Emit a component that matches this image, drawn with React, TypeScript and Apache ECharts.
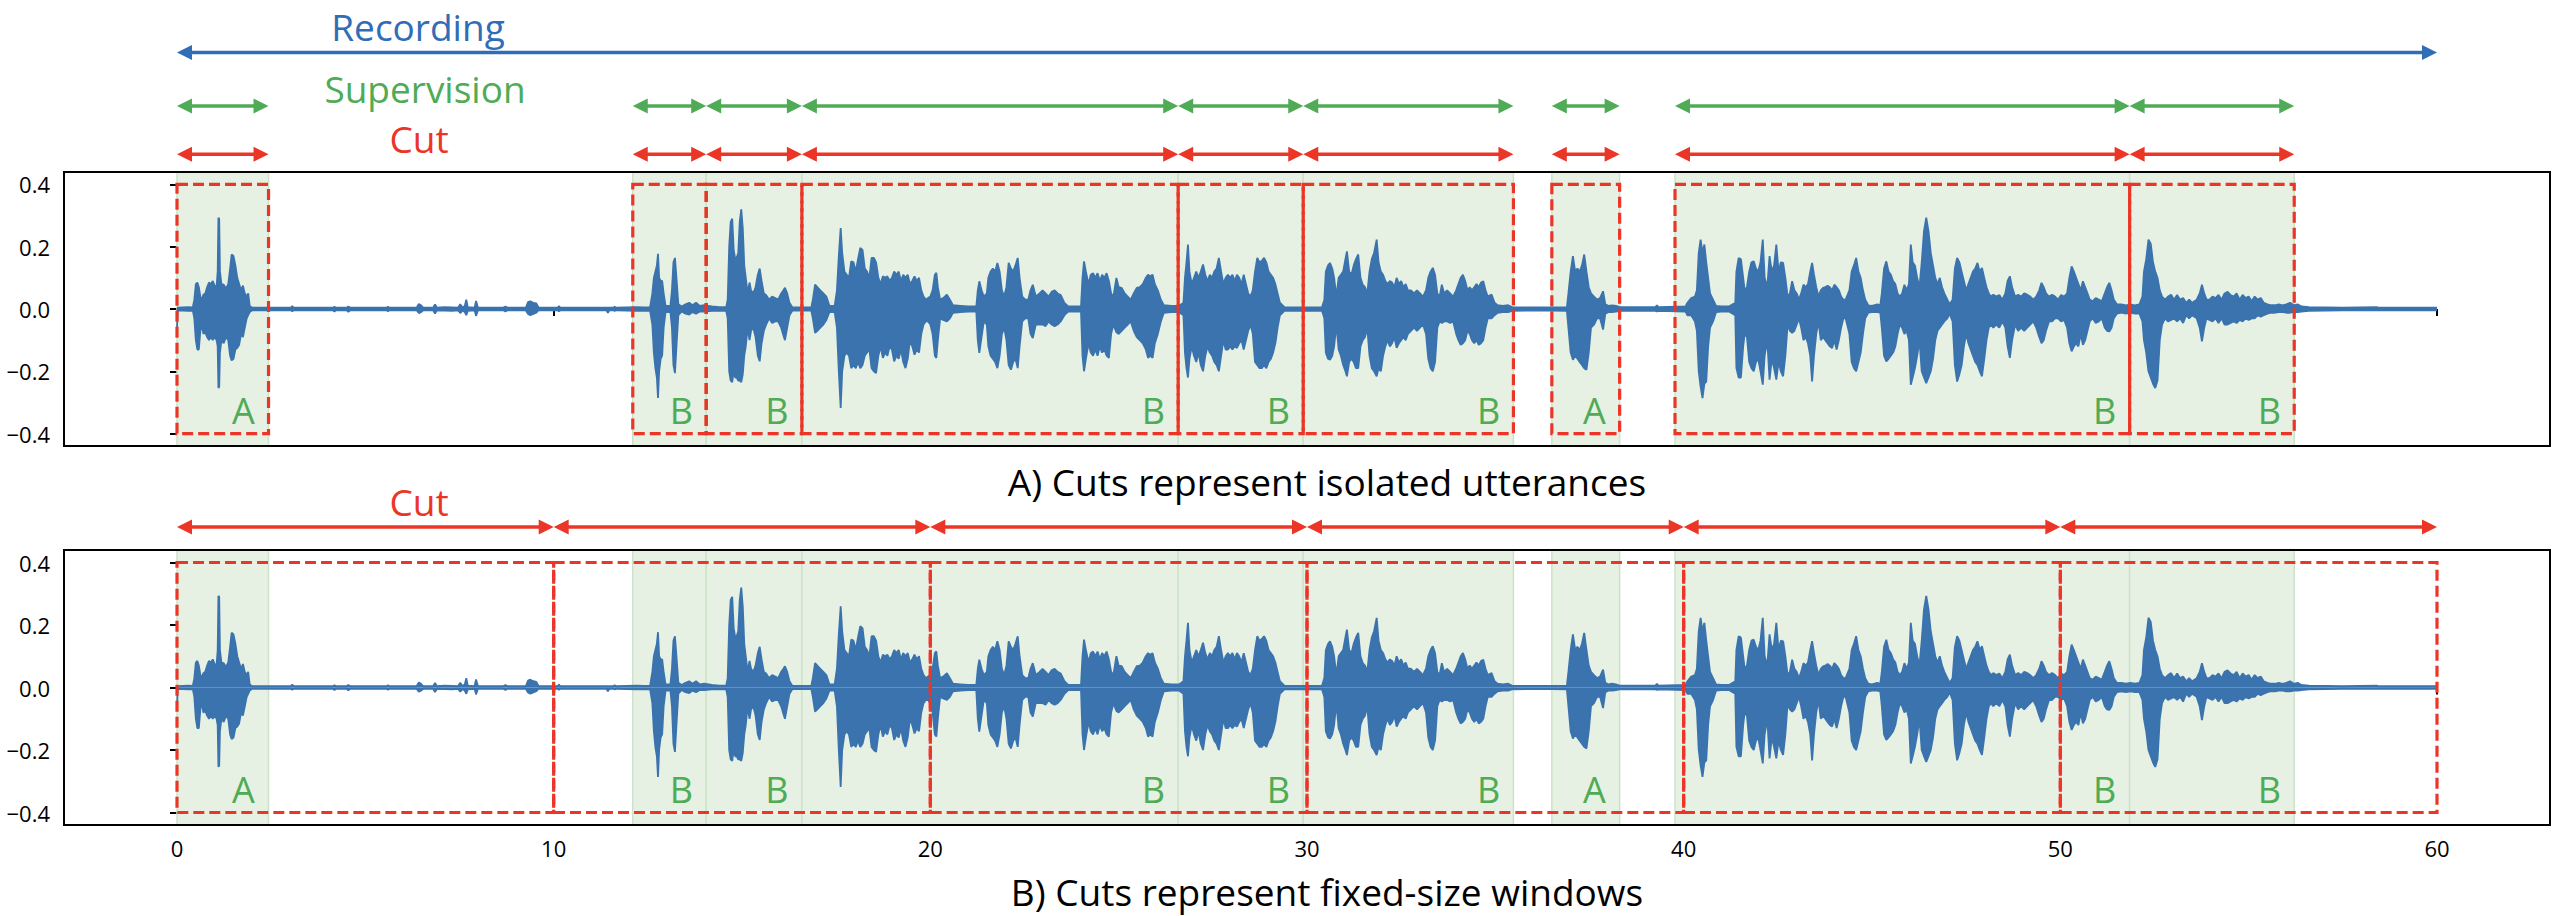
import React, { useEffect, useRef } from "react";
import * as echarts from "echarts";

// ---------- axes ----------
const X_MIN = -3;
const X_MAX = 63;
const Y_MIN = -0.44;
const Y_MAX = 0.44;
const xTicks = [0, 10, 20, 30, 40, 50, 60];
const yTicks = [-0.4, -0.2, 0, 0.2, 0.4];

// ---------- segments (seconds) ----------
const recording = [0, 60];
const supStart = [0, 12.1, 14.05, 16.59, 26.58, 29.9, 36.5, 39.77, 51.84];
const supEnd = [2.43, 14.05, 16.59, 26.58, 29.9, 35.48, 38.3, 51.84, 56.21];
const supLabel = ["A", "B", "B", "B", "B", "B", "A", "B", "B"];
const windowStart = [0, 10, 20, 30, 40, 50];
const windowEnd = [10, 20, 30, 40, 50, 60];

// ---------- waveform envelope: [time, upper peak, lower peak] ----------
const envA1 = [
  [0.0, 0.004, -0.06], [0.02, 0.004, -0.004], [0.3, 0.006, -0.006], [0.42, 0.005, -0.005],
  [0.46, 0.03, -0.03], [0.5, 0.08, -0.1], [0.54, 0.085, -0.13], [0.58, 0.07, -0.13],
  [0.62, 0.04, -0.07], [0.66, 0.03, -0.05], [0.7, 0.046, -0.08], [0.75, 0.05, -0.075],
  [0.8, 0.07, -0.09], [0.85, 0.085, -0.1], [0.9, 0.08, -0.09], [0.95, 0.09, -0.1],
  [1.0, 0.075, -0.09], [1.05, 0.07, -0.1], [1.08, 0.12, -0.12], [1.1, 0.293, -0.254],
  [1.12, 0.29, -0.25], [1.14, 0.12, -0.14], [1.18, 0.08, -0.1], [1.24, 0.078, -0.11],
  [1.3, 0.065, -0.09], [1.36, 0.08, -0.1], [1.41, 0.13, -0.15], [1.45, 0.175, -0.165],
  [1.5, 0.17, -0.16], [1.55, 0.14, -0.13], [1.6, 0.1, -0.125], [1.65, 0.08, -0.115],
  [1.7, 0.06, -0.08], [1.75, 0.075, -0.09], [1.8, 0.05, -0.06], [1.85, 0.04, -0.03],
  [1.89, 0.05, -0.02], [1.93, 0.01, -0.01], [2.0, 0.004, -0.004],
];
const envGap1 = [
  [2.4, 0.004, -0.004], [3.02, 0.004, -0.004], [3.06, 0.009, -0.007], [3.1, 0.004, -0.004],
  [4.14, 0.004, -0.004], [4.18, 0.007, -0.008], [4.22, 0.004, -0.004],
  [4.5, 0.004, -0.004], [4.55, 0.008, -0.009], [4.6, 0.004, -0.004],
  [5.56, 0.004, -0.004], [5.6, 0.007, -0.007], [5.64, 0.004, -0.004],
  [6.36, 0.004, -0.004], [6.42, 0.016, -0.013], [6.48, 0.012, -0.01], [6.54, 0.004, -0.004],
  [6.8, 0.004, -0.004], [6.85, 0.015, -0.015], [6.9, 0.004, -0.004],
  [7.1, 0.006, -0.005], [7.3, 0.005, -0.006],
  [7.46, 0.004, -0.004], [7.52, 0.015, -0.013], [7.58, 0.005, -0.005],
  [7.64, 0.01, -0.01], [7.68, 0.03, -0.02], [7.72, 0.006, -0.006],
  [7.9, 0.004, -0.004], [7.94, 0.026, -0.022], [7.99, 0.004, -0.004],
  [8.66, 0.004, -0.004], [8.72, 0.008, -0.008], [8.78, 0.004, -0.004],
  [9.26, 0.004, -0.004], [9.32, 0.022, -0.016], [9.38, 0.025, -0.02], [9.46, 0.02, -0.016],
  [9.54, 0.018, -0.012], [9.6, 0.004, -0.004],
  [10.1, 0.004, -0.004], [10.14, 0.009, -0.007], [10.18, 0.004, -0.004],
  [11.4, 0.004, -0.004], [11.44, 0.004, -0.012], [11.48, 0.004, -0.004],
  [11.58, 0.004, -0.004], [11.62, 0.007, -0.006], [11.66, 0.004, -0.004],
  [12.2, 0.006, -0.006], [12.4, 0.005, -0.005], [12.56, 0.006, -0.006],
];
const envB1 = [
  [12.62, 0.05, -0.05], [12.66, 0.1, -0.14], [12.7, 0.12, -0.19], [12.74, 0.14, -0.22],
  [12.77, 0.177, -0.286], [12.8, 0.1, -0.2], [12.84, 0.09, -0.16], [12.88, 0.09, -0.15],
  [12.92, 0.05, -0.06], [12.97, 0.01, -0.01], [13.1, 0.01, -0.01], [13.14, 0.06, -0.06],
  [13.18, 0.15, -0.18], [13.22, 0.164, -0.206], [13.26, 0.1, -0.12], [13.31, 0.015, -0.02],
  [13.4, 0.008, -0.008], [13.5, 0.015, -0.015], [13.6, 0.02, -0.018], [13.68, 0.012, -0.01],
  [13.78, 0.02, -0.015], [13.88, 0.01, -0.008], [14.0, 0.012, -0.008], [14.2, 0.008, -0.006],
  [14.4, 0.006, -0.006], [14.58, 0.006, -0.006],
];
const envB2 = [
  [14.62, 0.03, -0.03], [14.66, 0.2, -0.2], [14.7, 0.28, -0.23], [14.74, 0.29, -0.235],
  [14.78, 0.19, -0.2], [14.82, 0.16, -0.22], [14.86, 0.165, -0.22], [14.9, 0.18, -0.23],
  [14.94, 0.28, -0.23], [14.98, 0.32, -0.235], [15.02, 0.26, -0.21], [15.06, 0.14, -0.15],
  [15.1, 0.1, -0.12], [15.15, 0.05, -0.06], [15.2, 0.085, -0.1], [15.24, 0.06, -0.07],
  [15.3, 0.05, -0.06], [15.36, 0.07, -0.09], [15.42, 0.11, -0.15], [15.47, 0.13, -0.168],
  [15.52, 0.09, -0.11], [15.58, 0.05, -0.07], [15.64, 0.045, -0.05], [15.72, 0.03, -0.03],
  [15.8, 0.04, -0.045], [15.88, 0.035, -0.04], [15.96, 0.03, -0.04], [16.04, 0.05, -0.06],
  [16.1, 0.06, -0.085], [16.14, 0.068, -0.1], [16.2, 0.05, -0.06], [16.26, 0.02, -0.02],
  [16.34, 0.005, -0.005], [16.84, 0.005, -0.005],
];
const envB3 = [
  [16.88, 0.03, -0.03], [16.94, 0.078, -0.077], [17.0, 0.07, -0.07], [17.08, 0.06, -0.06],
  [17.16, 0.05, -0.05], [17.24, 0.04, -0.035], [17.32, 0.01, -0.01], [17.46, 0.01, -0.01],
  [17.52, 0.06, -0.06], [17.57, 0.17, -0.2], [17.62, 0.26, -0.318], [17.66, 0.18, -0.2],
  [17.72, 0.12, -0.15], [17.78, 0.11, -0.14], [17.84, 0.1, -0.15], [17.9, 0.153, -0.19],
  [17.96, 0.15, -0.18], [18.02, 0.12, -0.19], [18.08, 0.16, -0.17], [18.14, 0.196, -0.19],
  [18.2, 0.19, -0.18], [18.26, 0.13, -0.15], [18.32, 0.12, -0.14], [18.38, 0.1, -0.13],
  [18.44, 0.164, -0.19], [18.5, 0.164, -0.2], [18.56, 0.15, -0.206], [18.62, 0.1, -0.15],
  [18.68, 0.08, -0.12], [18.74, 0.105, -0.157], [18.8, 0.1, -0.14], [18.86, 0.105, -0.15],
  [18.92, 0.09, -0.12], [18.98, 0.1, -0.13], [19.04, 0.12, -0.168], [19.1, 0.11, -0.15],
  [19.16, 0.12, -0.16], [19.22, 0.09, -0.13], [19.28, 0.11, -0.17], [19.34, 0.1, -0.19],
  [19.4, 0.11, -0.16], [19.46, 0.08, -0.1], [19.52, 0.09, -0.12], [19.58, 0.105, -0.147],
  [19.64, 0.09, -0.13], [19.7, 0.1, -0.14], [19.76, 0.06, -0.08], [19.82, 0.04, -0.05],
  [19.88, 0.03, -0.04], [19.94, 0.035, -0.04], [20.0, 0.04, -0.05], [20.06, 0.06, -0.08],
  [20.12, 0.11, -0.15], [20.16, 0.116, -0.157], [20.2, 0.07, -0.1], [20.26, 0.03, -0.03],
  [20.34, 0.035, -0.035], [20.44, 0.046, -0.04], [20.52, 0.03, -0.03], [20.6, 0.012, -0.012],
  [20.8, 0.01, -0.01], [21.0, 0.008, -0.008], [21.22, 0.008, -0.008], [21.26, 0.06, -0.1],
  [21.3, 0.089, -0.141], [21.36, 0.06, -0.09], [21.42, 0.04, -0.04], [21.5, 0.05, -0.05],
  [21.54, 0.1, -0.12], [21.6, 0.12, -0.15], [21.66, 0.13, -0.16], [21.72, 0.12, -0.17],
  [21.78, 0.148, -0.19], [21.84, 0.12, -0.15], [21.9, 0.06, -0.08], [21.96, 0.04, -0.06],
  [22.02, 0.07, -0.1], [22.08, 0.148, -0.18], [22.14, 0.13, -0.195], [22.2, 0.12, -0.17],
  [22.26, 0.14, -0.16], [22.32, 0.164, -0.19], [22.37, 0.1, -0.12], [22.44, 0.04, -0.04],
  [22.52, 0.03, -0.03], [22.6, 0.03, -0.03], [22.66, 0.06, -0.08], [22.72, 0.078, -0.093],
  [22.8, 0.04, -0.05], [22.9, 0.05, -0.05], [22.98, 0.06, -0.05], [23.06, 0.05, -0.055],
  [23.14, 0.04, -0.04], [23.22, 0.055, -0.05], [23.3, 0.06, -0.055], [23.38, 0.05, -0.05],
  [23.46, 0.045, -0.04], [23.56, 0.02, -0.02], [23.66, 0.008, -0.008], [24.0, 0.008, -0.008],
  [24.04, 0.1, -0.15], [24.08, 0.153, -0.2], [24.13, 0.12, -0.16], [24.2, 0.08, -0.11],
  [24.26, 0.11, -0.14], [24.32, 0.115, -0.15], [24.38, 0.1, -0.13], [24.44, 0.115, -0.15],
  [24.5, 0.09, -0.12], [24.56, 0.11, -0.14], [24.62, 0.1, -0.13], [24.68, 0.115, -0.15],
  [24.74, 0.09, -0.157], [24.8, 0.05, -0.08], [24.86, 0.04, -0.05], [24.94, 0.1, -0.075],
  [25.0, 0.07, -0.08], [25.08, 0.068, -0.07], [25.16, 0.05, -0.06], [25.24, 0.04, -0.05],
  [25.32, 0.03, -0.04], [25.4, 0.05, -0.07], [25.48, 0.068, -0.09], [25.56, 0.07, -0.1],
  [25.64, 0.08, -0.11], [25.72, 0.1, -0.13], [25.78, 0.11, -0.157], [25.84, 0.105, -0.15],
  [25.9, 0.11, -0.157], [25.96, 0.08, -0.11], [26.04, 0.06, -0.08], [26.12, 0.03, -0.04],
  [26.2, 0.012, -0.012], [26.4, 0.01, -0.01], [26.6, 0.01, -0.01],
];
const envB4 = [
  [26.72, 0.02, -0.02], [26.76, 0.1, -0.14], [26.8, 0.15, -0.19], [26.84, 0.207, -0.22],
  [26.88, 0.12, -0.16], [26.94, 0.08, -0.12], [27.0, 0.1, -0.15], [27.06, 0.12, -0.17],
  [27.12, 0.1, -0.14], [27.18, 0.12, -0.18], [27.24, 0.143, -0.2], [27.3, 0.11, -0.15],
  [27.36, 0.09, -0.12], [27.42, 0.11, -0.14], [27.48, 0.1, -0.15], [27.54, 0.12, -0.17],
  [27.6, 0.13, -0.18], [27.66, 0.164, -0.2], [27.72, 0.12, -0.15], [27.78, 0.08, -0.1],
  [27.84, 0.1, -0.13], [27.9, 0.11, -0.13], [27.96, 0.1, -0.12], [28.02, 0.11, -0.13],
  [28.08, 0.09, -0.12], [28.14, 0.11, -0.125], [28.2, 0.1, -0.11], [28.26, 0.08, -0.1],
  [28.32, 0.11, -0.13], [28.38, 0.08, -0.1], [28.44, 0.05, -0.07], [28.5, 0.04, -0.05],
  [28.56, 0.06, -0.08], [28.62, 0.12, -0.17], [28.68, 0.164, -0.18], [28.74, 0.15, -0.19],
  [28.8, 0.155, -0.19], [28.86, 0.164, -0.18], [28.92, 0.15, -0.19], [28.98, 0.12, -0.17],
  [29.04, 0.11, -0.16], [29.1, 0.1, -0.14], [29.16, 0.08, -0.11], [29.22, 0.05, -0.06],
  [29.28, 0.02, -0.02], [29.4, 0.006, -0.006], [30.0, 0.005, -0.005], [30.4, 0.006, -0.006],
];
const envB5 = [
  [30.46, 0.03, -0.03], [30.5, 0.12, -0.14], [30.56, 0.14, -0.16], [30.61, 0.148, -0.163],
  [30.67, 0.13, -0.15], [30.72, 0.1, -0.12], [30.78, 0.04, -0.05], [30.84, 0.1, -0.13],
  [30.9, 0.11, -0.15], [30.96, 0.12, -0.18], [31.02, 0.16, -0.2], [31.06, 0.185, -0.216],
  [31.12, 0.12, -0.17], [31.18, 0.11, -0.16], [31.24, 0.14, -0.17], [31.3, 0.16, -0.19],
  [31.36, 0.175, -0.19], [31.42, 0.1, -0.12], [31.48, 0.078, -0.1], [31.54, 0.07, -0.09],
  [31.6, 0.05, -0.06], [31.66, 0.12, -0.15], [31.72, 0.16, -0.19], [31.78, 0.18, -0.2],
  [31.85, 0.223, -0.216], [31.9, 0.15, -0.19], [31.96, 0.12, -0.2], [32.02, 0.11, -0.15],
  [32.08, 0.09, -0.12], [32.14, 0.08, -0.1], [32.2, 0.09, -0.12], [32.26, 0.085, -0.11],
  [32.32, 0.07, -0.09], [32.38, 0.1, -0.125], [32.44, 0.08, -0.11], [32.5, 0.09, -0.1],
  [32.56, 0.07, -0.09], [32.62, 0.08, -0.1], [32.68, 0.06, -0.08], [32.76, 0.06, -0.07],
  [32.84, 0.05, -0.06], [32.92, 0.06, -0.07], [33.0, 0.05, -0.06], [33.08, 0.04, -0.05],
  [33.16, 0.06, -0.08], [33.22, 0.1, -0.16], [33.28, 0.12, -0.19], [33.34, 0.132, -0.2],
  [33.4, 0.11, -0.17], [33.46, 0.05, -0.06], [33.52, 0.04, -0.04], [33.58, 0.078, -0.045],
  [33.64, 0.05, -0.04], [33.72, 0.06, -0.04], [33.8, 0.05, -0.045], [33.88, 0.04, -0.04],
  [33.96, 0.06, -0.08], [34.02, 0.08, -0.1], [34.08, 0.1, -0.115], [34.14, 0.11, -0.11],
  [34.2, 0.09, -0.1], [34.26, 0.06, -0.07], [34.32, 0.07, -0.08], [34.38, 0.06, -0.1],
  [34.44, 0.07, -0.11], [34.5, 0.08, -0.1], [34.56, 0.07, -0.115], [34.62, 0.085, -0.11],
  [34.68, 0.089, -0.1], [34.74, 0.06, -0.06], [34.8, 0.04, -0.03], [34.9, 0.046, -0.03],
  [34.98, 0.02, -0.02], [35.06, 0.012, -0.012], [35.2, 0.01, -0.01], [35.34, 0.012, -0.01],
  [35.44, 0.006, -0.006], [36.0, 0.005, -0.005], [36.5, 0.005, -0.005], [36.9, 0.006, -0.006],
];
const envA2 = [
  [36.94, 0.05, -0.06], [37.0, 0.12, -0.14], [37.06, 0.17, -0.163], [37.12, 0.12, -0.15],
  [37.18, 0.13, -0.16], [37.24, 0.12, -0.17], [37.3, 0.14, -0.18], [37.36, 0.175, -0.19],
  [37.42, 0.12, -0.195], [37.48, 0.07, -0.14], [37.54, 0.05, -0.06], [37.62, 0.04, -0.05],
  [37.7, 0.03, -0.03], [37.78, 0.035, -0.03], [37.86, 0.057, -0.066], [37.92, 0.015, -0.015],
  [38.0, 0.01, -0.01], [38.1, 0.012, -0.01], [38.2, 0.01, -0.008], [38.3, 0.006, -0.006],
  [39.25, 0.006, -0.006], [39.29, 0.012, -0.008], [39.33, 0.006, -0.006], [40.05, 0.008, -0.008],
];
const envB6 = [
  [40.1, 0.02, -0.02], [40.2, 0.035, -0.02], [40.3, 0.04, -0.04], [40.35, 0.06, -0.07],
  [40.4, 0.18, -0.2], [40.45, 0.223, -0.25], [40.5, 0.18, -0.286], [40.55, 0.207, -0.24],
  [40.6, 0.15, -0.233], [40.65, 0.1, -0.12], [40.7, 0.05, -0.06], [40.78, 0.03, -0.04],
  [40.86, 0.01, -0.01], [41.0, 0.008, -0.008], [41.2, 0.008, -0.008], [41.37, 0.02, -0.02],
  [41.4, 0.12, -0.19], [41.46, 0.164, -0.22], [41.52, 0.16, -0.22], [41.58, 0.1, -0.12],
  [41.62, 0.06, -0.08], [41.68, 0.07, -0.09], [41.74, 0.12, -0.17], [41.8, 0.15, -0.19],
  [41.86, 0.153, -0.2], [41.92, 0.13, -0.17], [41.98, 0.12, -0.16], [42.04, 0.15, -0.2],
  [42.1, 0.223, -0.243], [42.15, 0.1, -0.15], [42.22, 0.07, -0.1], [42.28, 0.17, -0.227],
  [42.34, 0.12, -0.16], [42.4, 0.14, -0.19], [42.46, 0.207, -0.227], [42.52, 0.12, -0.17],
  [42.58, 0.15, -0.2], [42.64, 0.148, -0.216], [42.7, 0.1, -0.15], [42.76, 0.04, -0.05],
  [42.82, 0.05, -0.07], [42.88, 0.089, -0.077], [42.94, 0.06, -0.07], [43.0, 0.05, -0.05],
  [43.06, 0.03, -0.03], [43.12, 0.05, -0.06], [43.18, 0.078, -0.1], [43.24, 0.07, -0.09],
  [43.3, 0.08, -0.11], [43.36, 0.12, -0.15], [43.41, 0.148, -0.233], [43.46, 0.11, -0.15],
  [43.52, 0.07, -0.08], [43.58, 0.04, -0.04], [43.64, 0.06, -0.1], [43.7, 0.068, -0.09],
  [43.76, 0.07, -0.1], [43.82, 0.075, -0.11], [43.88, 0.07, -0.12], [43.94, 0.06, -0.125],
  [44.0, 0.078, -0.1], [44.06, 0.07, -0.13], [44.12, 0.06, -0.1], [44.18, 0.04, -0.06],
  [44.24, 0.03, -0.03], [44.3, 0.03, -0.03], [44.4, 0.06, -0.08], [44.46, 0.12, -0.17],
  [44.52, 0.14, -0.19], [44.58, 0.164, -0.2], [44.64, 0.12, -0.17], [44.7, 0.1, -0.14],
  [44.76, 0.06, -0.08], [44.82, 0.03, -0.03], [44.9, 0.012, -0.012], [45.0, 0.01, -0.01],
  [45.14, 0.015, -0.01], [45.22, 0.012, -0.012], [45.26, 0.05, -0.06], [45.32, 0.13, -0.15],
  [45.38, 0.153, -0.168], [45.44, 0.12, -0.16], [45.5, 0.11, -0.15], [45.56, 0.09, -0.14],
  [45.62, 0.08, -0.12], [45.68, 0.05, -0.08], [45.74, 0.04, -0.05], [45.8, 0.05, -0.06],
  [45.86, 0.078, -0.08], [45.92, 0.06, -0.07], [45.98, 0.08, -0.1], [46.03, 0.207, -0.243],
  [46.08, 0.15, -0.22], [46.14, 0.14, -0.19], [46.2, 0.1, -0.15], [46.26, 0.07, -0.1],
  [46.32, 0.15, -0.2], [46.38, 0.25, -0.22], [46.44, 0.293, -0.238], [46.5, 0.25, -0.22],
  [46.56, 0.18, -0.2], [46.62, 0.14, -0.16], [46.68, 0.1, -0.1], [46.74, 0.08, -0.07],
  [46.8, 0.1, -0.06], [46.86, 0.07, -0.05], [46.92, 0.05, -0.04], [47.0, 0.03, -0.03],
  [47.06, 0.015, -0.015], [47.14, 0.03, -0.04], [47.2, 0.13, -0.18], [47.26, 0.164, -0.233],
  [47.32, 0.15, -0.21], [47.38, 0.12, -0.18], [47.44, 0.09, -0.12], [47.5, 0.06, -0.08],
  [47.56, 0.08, -0.11], [47.62, 0.1, -0.13], [47.68, 0.12, -0.15], [47.74, 0.13, -0.17],
  [47.8, 0.148, -0.18], [47.86, 0.12, -0.2], [47.92, 0.132, -0.216], [47.98, 0.1, -0.16],
  [48.04, 0.07, -0.1], [48.1, 0.05, -0.06], [48.16, 0.04, -0.05], [48.22, 0.046, -0.06],
  [48.3, 0.04, -0.05], [48.38, 0.045, -0.06], [48.46, 0.03, -0.04], [48.54, 0.05, -0.06],
  [48.6, 0.09, -0.12], [48.66, 0.105, -0.157], [48.72, 0.07, -0.1], [48.8, 0.04, -0.05],
  [48.88, 0.046, -0.07], [48.96, 0.04, -0.06], [49.04, 0.05, -0.07], [49.12, 0.046, -0.06],
  [49.2, 0.04, -0.05], [49.28, 0.03, -0.04], [49.36, 0.04, -0.06], [49.44, 0.06, -0.09],
  [49.5, 0.084, -0.11], [49.56, 0.07, -0.1], [49.62, 0.05, -0.07], [49.7, 0.04, -0.04],
  [49.78, 0.046, -0.04], [49.86, 0.04, -0.03], [49.94, 0.03, -0.03], [50.02, 0.045, -0.04],
  [50.1, 0.04, -0.035], [50.18, 0.05, -0.06], [50.24, 0.1, -0.11], [50.3, 0.137, -0.136],
  [50.36, 0.12, -0.12], [50.42, 0.1, -0.11], [50.48, 0.08, -0.12], [50.54, 0.06, -0.08],
  [50.6, 0.089, -0.115], [50.66, 0.07, -0.1], [50.72, 0.05, -0.07], [50.78, 0.03, -0.04],
  [50.86, 0.025, -0.03], [50.94, 0.035, -0.045], [51.02, 0.03, -0.04], [51.1, 0.025, -0.03],
  [51.18, 0.05, -0.06], [51.24, 0.07, -0.07], [51.3, 0.084, -0.072], [51.36, 0.06, -0.06],
  [51.42, 0.03, -0.03], [51.5, 0.015, -0.015], [51.62, 0.015, -0.012], [51.74, 0.012, -0.015],
  [51.86, 0.015, -0.012], [51.98, 0.012, -0.015], [52.1, 0.015, -0.015],
];
const envB7 = [
  [52.18, 0.04, -0.04], [52.22, 0.12, -0.1], [52.28, 0.16, -0.14], [52.34, 0.223, -0.2],
  [52.4, 0.21, -0.22], [52.46, 0.15, -0.24], [52.52, 0.12, -0.254], [52.58, 0.1, -0.23],
  [52.64, 0.06, -0.1], [52.7, 0.04, -0.05], [52.78, 0.03, -0.03], [52.86, 0.04, -0.04],
  [52.94, 0.046, -0.035], [53.02, 0.03, -0.03], [53.1, 0.045, -0.04], [53.18, 0.03, -0.03],
  [53.26, 0.035, -0.045], [53.34, 0.02, -0.02], [53.42, 0.03, -0.03], [53.5, 0.02, -0.02],
  [53.62, 0.03, -0.03], [53.7, 0.05, -0.06], [53.76, 0.078, -0.104], [53.82, 0.05, -0.06],
  [53.88, 0.03, -0.03], [53.96, 0.03, -0.035], [54.04, 0.04, -0.04], [54.12, 0.035, -0.03],
  [54.2, 0.045, -0.045], [54.28, 0.03, -0.03], [54.36, 0.05, -0.05], [54.44, 0.055, -0.05],
  [54.52, 0.045, -0.045], [54.6, 0.04, -0.04], [54.68, 0.05, -0.045], [54.76, 0.03, -0.035],
  [54.84, 0.045, -0.04], [54.92, 0.035, -0.03], [55.0, 0.04, -0.035], [55.08, 0.025, -0.03],
  [55.16, 0.04, -0.03], [55.24, 0.03, -0.02], [55.32, 0.035, -0.025], [55.4, 0.02, -0.02],
  [55.5, 0.015, -0.015], [55.6, 0.012, -0.012], [55.7, 0.012, -0.012], [55.8, 0.015, -0.01],
  [55.9, 0.012, -0.01], [56.0, 0.015, -0.012], [56.1, 0.02, -0.012], [56.2, 0.012, -0.01],
  [56.3, 0.015, -0.01], [56.4, 0.008, -0.008], [56.6, 0.006, -0.006],
  [57.5, 0.004, -0.004], [58.4, 0.006, -0.004], [58.45, 0.004, -0.004], [60.0, 0.004, -0.004],
];

const envelope = [
  ...envA1, ...envGap1, ...envB1, ...envB2, ...envB3, ...envB4,
  ...envB5, ...envA2, ...envB6, ...envB7,
];

// ---------- style ----------
const BLUE_WAVE = "#3a73ae";
const BLUE = "#2f6db6";
const GREEN = "#4fab55";
const RED = "#eb3526";
const SHADE = "#e6f0e3";
const SHADE_EDGE = "#cde3c9";
const FONT = "'Open Sans'";

function App() {
  const ref = useRef<HTMLDivElement>(null);

  useEffect(() => {
    if (!ref.current) return;
    const chart = echarts.init(ref.current, undefined, { renderer: "svg" });

    const hiData = envelope.map((p) => [p[0], p[1]]);
    const loData = envelope.map((p) => [p[0], p[2]]);
    const supData = supStart.map((s, i) => [s, supEnd[i]]);
    const winData = windowStart.map((s, i) => [s, windowEnd[i]]);

    // arrow rows: [start, end, row]
    const topArrows = [
      [recording[0], recording[1], 0],
      ...supData.map((d) => [d[0], d[1], 1]),
      ...supData.map((d) => [d[0], d[1], 2]),
    ];
    const botArrows = winData.map((d) => [d[0], d[1], 3]);
    const rowOffset = [119.5, 66, 17.7, 23];
    const rowColor = [BLUE, GREEN, RED, RED];

    const arrowRender = (params: any, api: any) => {
      const cs = params.coordSys;
      const x0 = api.coord([api.value(0), 0])[0];
      const x1 = api.coord([api.value(1), 0])[0];
      const row = api.value(2);
      const y = cs.y - rowOffset[row];
      const c = rowColor[row];
      const L = 15;
      const H = 7.5;
      return {
        type: "group",
        children: [
          { type: "line", shape: { x1: x0 + 6, y1: y, x2: x1 - 6, y2: y }, style: { stroke: c, lineWidth: 3.4 } },
          { type: "polygon", shape: { points: [[x0, y], [x0 + L, y - H], [x0 + L, y + H]] }, style: { fill: c } },
          { type: "polygon", shape: { points: [[x1, y], [x1 - L, y - H], [x1 - L, y + H]] }, style: { fill: c } },
        ],
      };
    };

    const spanRender = (params: any, api: any) => {
      const cs = params.coordSys;
      const x0 = api.coord([api.value(0), 0])[0];
      const x1 = api.coord([api.value(1), 0])[0];
      const yt = cs.y + 1;
      const yb = cs.y + cs.height - 1;
      return {
        type: "group",
        children: [
          { type: "rect", shape: { x: x0, y: yt, width: x1 - x0, height: yb - yt }, style: { fill: SHADE } },
          { type: "line", shape: { x1: x0, y1: yt, x2: x0, y2: yb }, style: { stroke: SHADE_EDGE, lineWidth: 1.5 } },
          { type: "line", shape: { x1: x1, y1: yt, x2: x1, y2: yb }, style: { stroke: SHADE_EDGE, lineWidth: 1.5 } },
        ],
      };
    };

    const boxRender = (params: any, api: any) => {
      const p0 = api.coord([api.value(0), 0.4]);
      const p1 = api.coord([api.value(1), -0.4]);
      return {
        type: "rect",
        shape: { x: p0[0], y: p0[1], width: p1[0] - p0[0], height: p1[1] - p0[1] },
        style: { fill: "none", stroke: RED, lineWidth: 3.2, lineDash: [11, 5] },
      };
    };

    const labelRender = (params: any, api: any) => {
      const p = api.coord([api.value(1) - 0.97, -0.326]);
      return {
        type: "text",
        x: p[0],
        y: p[1],
        style: {
          text: supLabel[params.dataIndex],
          fill: GREEN,
          fontSize: 36,
          fontFamily: FONT,
          align: "left",
          verticalAlign: "middle",
        },
      };
    };

    const yFmt = (v: number) => {
      const s = Math.abs(v) < 1e-9 ? "0.0" : v.toFixed(1);
      return s.replace("-", "\u2212");
    };

    const mkX = (gridIndex: number, labels: boolean) => ({
      type: "value",
      gridIndex,
      min: X_MIN,
      max: X_MAX,
      axisLine: { show: false },
      splitLine: { show: false },
      axisTick: { show: true, customValues: xTicks, length: 7, lineStyle: { color: "#000", width: 2 } },
      axisLabel: {
        show: labels,
        customValues: xTicks,
        color: "#000",
        fontSize: 22,
        fontFamily: FONT,
        margin: 12,
      },
    });
    const mkY = (gridIndex: number) => ({
      type: "value",
      gridIndex,
      min: Y_MIN,
      max: Y_MAX,
      axisLine: { show: false },
      splitLine: { show: false },
      axisTick: { show: true, customValues: yTicks, length: 7, lineStyle: { color: "#000", width: 2 } },
      axisLabel: {
        customValues: yTicks,
        formatter: yFmt,
        color: "#000",
        fontSize: 22,
        fontFamily: FONT,
        margin: 14,
      },
    });

    const waveSeries = (gi: number) => [
      {
        type: "custom",
        xAxisIndex: gi,
        yAxisIndex: gi,
        renderItem: spanRender,
        data: supData,
        z: 1,
        silent: true,
      },
      {
        type: "line",
        xAxisIndex: gi,
        yAxisIndex: gi,
        data: hiData,
        symbol: "none",
        lineStyle: { color: BLUE_WAVE, width: 1.8 },
        areaStyle: { color: BLUE_WAVE, opacity: 1 },
        z: 2,
        silent: true,
      },
      {
        type: "line",
        xAxisIndex: gi,
        yAxisIndex: gi,
        data: loData,
        symbol: "none",
        lineStyle: { color: BLUE_WAVE, width: 1.8 },
        areaStyle: { color: BLUE_WAVE, opacity: 1 },
        z: 2,
        silent: true,
      },
      {
        type: "custom",
        xAxisIndex: gi,
        yAxisIndex: gi,
        renderItem: boxRender,
        data: gi === 0 ? supData : winData,
        z: 3,
        silent: true,
      },
      {
        type: "custom",
        xAxisIndex: gi,
        yAxisIndex: gi,
        renderItem: labelRender,
        data: supData,
        z: 4,
        silent: true,
      },
      {
        type: "custom",
        xAxisIndex: gi,
        yAxisIndex: gi,
        renderItem: arrowRender,
        data: gi === 0 ? topArrows : botArrows,
        z: 5,
        silent: true,
      },
    ];

    const bigText = (text: string, x: number, y: number, fill: string) => ({
      type: "text",
      x,
      y,
      style: { text, fill, fontSize: 37, fontFamily: FONT, align: "center", verticalAlign: "middle" },
    });

    chart.setOption({
      animation: false,
      backgroundColor: "#fff",
      grid: [
        { left: 64, right: 4, top: 172, height: 274, show: true, borderColor: "#000", borderWidth: 2, backgroundColor: "transparent" },
        { left: 64, right: 4, top: 550, height: 275, show: true, borderColor: "#000", borderWidth: 2, backgroundColor: "transparent" },
      ],
      xAxis: [mkX(0, false), mkX(1, true)],
      yAxis: [mkY(0), mkY(1)],
      series: [...waveSeries(0), ...waveSeries(1)],
      graphic: [
        bigText("Recording", 418, 26.5, BLUE),
        bigText("Supervision", 425, 88.5, GREEN),
        bigText("Cut", 419, 138.5, RED),
        bigText("Cut", 419, 501.5, RED),
        bigText("A) Cuts represent isolated utterances", 1327, 481.5, "#000"),
        bigText("B) Cuts represent fixed-size windows", 1327, 891.5, "#000"),
      ],
    });

    return () => chart.dispose();
  }, []);

  return <div ref={ref} style={{ position: "absolute", left: 0, top: 0, width: 2554, height: 916 }} />;
}

export default App;
